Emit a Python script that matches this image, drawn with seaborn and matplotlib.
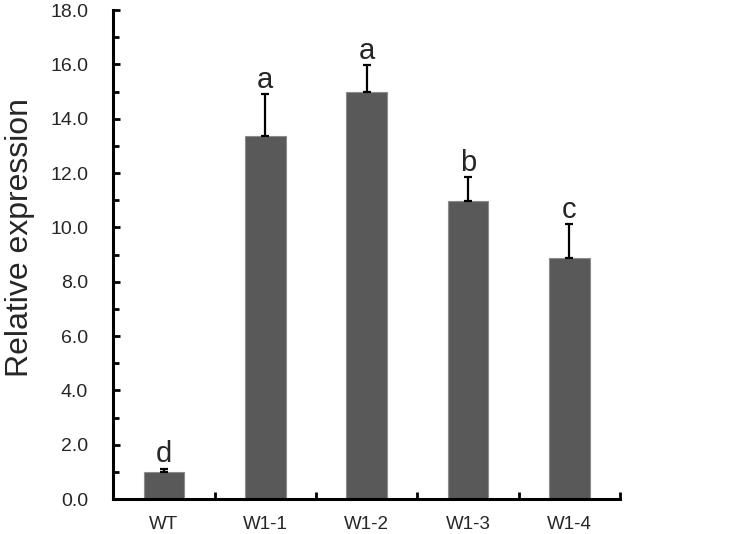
import matplotlib
matplotlib.use("Agg")
import matplotlib.pyplot as plt
import seaborn as sns
import numpy as np
from matplotlib.ticker import MultipleLocator, FixedLocator, FormatStrFormatter

# values
lines = ["WT", "W1-1", "W1-2", "W1-3", "W1-4"]
expression = [1.0, 13.35, 15.0, 10.97, 8.87]
sd = [0.12, 1.55, 0.97, 0.88, 1.25]
letters = ["d", "a", "a", "b", "c"]

sns.set_style("ticks")
plt.rcParams["font.family"] = ["Liberation Sans", "DejaVu Sans"]

fig = plt.figure(figsize=(7.4, 5.34), dpi=100)
ax = fig.add_axes([0.153, 0.0655, 0.685, 0.9155])

sns.barplot(x=lines, y=expression, color="#595959", width=0.4,
            edgecolor="#8c8c8c", linewidth=0.8, saturation=1, ax=ax)
ax.errorbar(np.arange(len(lines)), expression, yerr=[np.zeros(len(sd)), sd],
            fmt="none", ecolor="black", elinewidth=1.6, capsize=3, capthick=1.6)

for i, (v, e, s) in enumerate(zip(expression, sd, letters)):
    ax.text(i, v + e + 0.02, s, ha="center", va="bottom", fontsize=21)

ax.set_xlim(-0.5, 4.5)
ax.set_ylim(0, 18)
ax.yaxis.set_major_locator(MultipleLocator(2))
ax.yaxis.set_minor_locator(MultipleLocator(1))
ax.yaxis.set_major_formatter(FormatStrFormatter("%.1f"))
ax.xaxis.set_minor_locator(FixedLocator(np.arange(0.5, 5, 1)))

ax.tick_params(axis="both", which="both", direction="in", width=2, color="black")
ax.tick_params(axis="y", which="major", length=5, labelsize=14, pad=18)
ax.tick_params(axis="y", which="minor", length=4)
ax.tick_params(axis="x", which="both", length=5, labelsize=13.5, pad=12)

for side in ["left", "bottom"]:
    ax.spines[side].set_linewidth(2.2)
    ax.spines[side].set_color("black")
sns.despine(ax=ax)

ax.set_ylabel("Relative expression", fontsize=23, va="center")
ax.yaxis.set_label_coords(-0.183, 0.535)
ax.set_xlabel("")

fig.savefig("out.png", dpi=100)
